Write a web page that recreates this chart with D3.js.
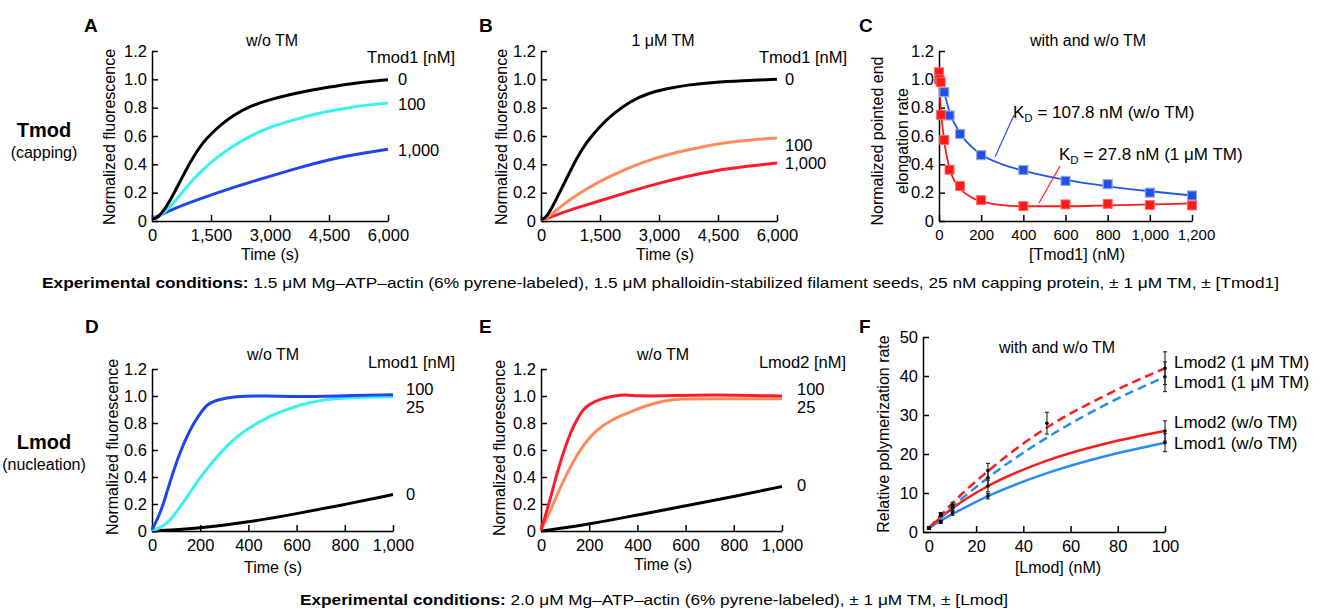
<!DOCTYPE html>
<html>
<head>
<meta charset="utf-8">
<script src="https://cdn.jsdelivr.net/npm/d3@7"></script>
<style>
  body { margin: 0; background: #fff; }
  svg { display: block; }
  text { font-family: "Liberation Sans", Arial, sans-serif; fill: #000; }
  .tick text { font-size: 16.5px; }
  .small .tick text { font-size: 15px; }
</style>
</head>
<body>
<div id="fig"></div>
<script>
// ---- data ----
// A: Tmod1 capping, w/o TM  [time (s), normalized fluorescence]
const aTmod0 = [[0,0.015],[110,0.016],[280,0.063],[534,0.18],[788,0.32],[1042,0.45],[1297,0.555],[1500,0.615],[1800,0.69],[2060,0.745],[2483,0.81],[2992,0.857],[3500,0.892],[4008,0.922],[4517,0.946],[5025,0.969],[5534,0.985],[6000,0.997]];
const aTmod100 = [[0,0.015],[195,0.028],[534,0.12],[873,0.24],[1212,0.343],[1636,0.448],[2060,0.53],[2568,0.612],[3076,0.67],[3585,0.712],[4093,0.752],[4602,0.78],[5110,0.805],[5534,0.82],[6000,0.833]];
const aTmod1000 = [[0,0.015],[534,0.086],[1212,0.156],[2060,0.238],[2907,0.308],[3754,0.378],[4602,0.441],[5449,0.483],[6000,0.507]];
// B: Tmod1 capping, 1 uM TM
const bTmod0 = [[0,0.01],[140,0.02],[400,0.16],[650,0.30],[900,0.44],[1150,0.555],[1500,0.67],[1850,0.76],[2270,0.845],[2700,0.9],[3200,0.935],[3700,0.96],[4400,0.98],[5100,0.99],[6000,1.0]];
const bTmod100 = [[0,0.01],[144,0.016],[569,0.12],[993,0.2],[1418,0.27],[1842,0.327],[2351,0.39],[2861,0.44],[3370,0.48],[3879,0.51],[4388,0.54],[4898,0.56],[5407,0.575],[6000,0.585]];
const bTmod1000 = [[0,0.01],[150,0.015],[570,0.065],[1420,0.135],[2270,0.21],[3030,0.27],[3700,0.315],[4390,0.355],[5200,0.385],[6000,0.41]];
const tmodLabels = ["0", "100", "1,000"];
// C: pointed end elongation rate vs [Tmod1]
const cNoTM = [[0,1.0],[25,0.91],[50,0.745],[100,0.614],[200,0.465],[400,0.36],[600,0.283],[800,0.26],[1000,0.2],[1200,0.18]];
const cTM = [[0,1.05],[2,1.0],[8,0.98],[10,0.75],[25,0.572],[50,0.362],[100,0.247],[200,0.147],[400,0.105],[600,0.117],[800,0.121],[1000,0.112],[1200,0.11]];
const cNoTMFit = [[0,1.0],[10,0.96],[25,0.9],[50,0.77],[100,0.62],[150,0.53],[200,0.47],[300,0.4],[400,0.355],[600,0.29],[800,0.245],[1000,0.21],[1200,0.18]];
const cTMFit = [[0,1.05],[5,0.88],[10,0.77],[25,0.56],[50,0.37],[100,0.23],[150,0.17],[200,0.14],[300,0.112],[400,0.104],[600,0.104],[800,0.11],[1000,0.117],[1200,0.125]];
// D: Lmod1 nucleation, w/o TM
const dLmod100 = [[0,0.01],[35,0.13],[62,0.29],[90,0.45],[118,0.59],[145,0.70],[173,0.80],[200,0.87],[228,0.94],[270,0.97],[340,1.0],[480,1.0],[620,0.995],[750,1.0],[1000,1.01]];
const dLmod25 = [[0,0.01],[20,0.01],[60,0.05],[100,0.135],[145,0.25],[200,0.40],[255,0.52],[310,0.63],[365,0.72],[420,0.78],[475,0.84],[545,0.89],[615,0.935],[700,0.97],[810,0.99],[1000,0.995]];
const dLmod0 = [[0,0],[200,0.02],[400,0.065],[600,0.128],[800,0.196],[1000,0.27]];
// E: Lmod2 nucleation, w/o TM
const eLmod100 = [[0,0.01],[25,0.15],[50,0.32],[75,0.48],[100,0.62],[125,0.74],[150,0.83],[175,0.9],[200,0.94],[250,0.98],[300,1.0],[350,1.01],[400,1.0],[500,1.0],[700,1.01],[1000,1.0]];
const eLmod25 = [[0,0.01],[24,0.087],[93,0.38],[162,0.61],[231,0.755],[300,0.83],[369,0.88],[438,0.93],[508,0.965],[577,0.98],[715,0.98],[1000,0.98]];
const eLmod0 = [[0,0],[203,0.05],[408,0.122],[607,0.188],[805,0.256],[1000,0.33]];
const lmodLabels = ["100", "25", "0"];
// F: relative polymerization rate vs [Lmod]
const fConc = [0, 5, 10, 25, 50, 75, 100];
const fLmod2TMFit = [1, 4.2, 7.4, 15.6, 26.8, 35.1, 42];
const fLmod1TMFit = [1, 3.8, 6.5, 13.9, 24.2, 32.7, 39.8];
const fLmod2Fit = [1, 3.7, 6.1, 11.8, 18.3, 22.7, 25.9];
const fLmod1Fit = [1, 2.9, 4.6, 9.2, 15.1, 19.5, 22.9];
// [nM, rate, error]
const fLmod2TMPts = [[0,1,0.3],[5,4.4,0.4],[10,6.8,0.8],[25,15.7,1.9],[50,27.9,2.8],[100,42,4.2]];
const fLmod1TMPts = [[0,1,0.3],[5,2.6,0.4],[10,6.1,0.8],[25,13.9,2],[100,39.8,3.8]];
const fLmod2Pts = [[0,1,0.3],[5,4.6,0.4],[10,6.3,0.8],[25,11.8,1.5],[100,25.9,2.6]];
const fLmod1Pts = [[0,1,0.3],[5,2.6,0.3],[10,4.9,0.6],[25,9.2,0.7],[100,22.9,2.3]];
const fLabels = ["Lmod2 (1 μM TM)", "Lmod1 (1 μM TM)", "Lmod2 (w/o TM)", "Lmod1 (w/o TM)"];

const w = 1321, h = 609;
const svg = d3.select("#fig").append("svg").attr("width", w).attr("height", h);

const fmtY1 = d => d === 0 ? "0" : d3.format(".1f")(d);

function panel(o) {
  const x = d3.scaleLinear().domain(o.xd).range([o.left, o.right]);
  const y = d3.scaleLinear().domain(o.yd).range([o.bottom, o.top]);
  const gx = svg.append("g")
      .attr("class", o.smallX ? "small" : null)
      .attr("transform", `translate(0,${o.bottom})`)
      .call(d3.axisBottom(x).tickValues(o.xt).tickFormat(o.xf)
        .tickSizeInner(-6).tickSizeOuter(0).tickPadding(8));
  const gy = svg.append("g")
      .attr("transform", `translate(${o.left},0)`)
      .call(d3.axisLeft(y).tickValues(o.yt).tickFormat(o.yf)
        .tickSizeInner(-6).tickSizeOuter(0).tickPadding(5));
  [gx, gy].forEach(g => {
    g.attr("font-size", null).attr("font-family", null);
    g.selectAll("path, line").attr("stroke", "#000").attr("stroke-width", 1.5);
  });
  if (o.hideX0) gx.selectAll(".tick line").filter(d => d === 0).remove();
  return {x, y, gx};
}

function trace(p, data, color, width, curve) {
  svg.append("path")
      .datum(data)
      .attr("fill", "none")
      .attr("stroke", color)
      .attr("stroke-width", width || 3)
      .attr("stroke-linejoin", "round")
      .attr("d", d3.line().x(d => p.x(d[0])).y(d => p.y(d[1])).curve(curve || d3.curveBasis));
}

function txt(x, y, s, opt) {
  opt = opt || {};
  const t = svg.append("text").attr("x", x).attr("y", y).text(s)
      .attr("font-size", opt.size || 16)
      .attr("text-anchor", opt.anchor || "start");
  if (opt.bold) t.attr("font-weight", "bold");
  if (opt.rot) t.attr("transform", `rotate(-90,${x},${y})`);
  return t;
}

// ---- row labels ----
txt(84, 32, "A", {size: 19, bold: true});
txt(479, 32, "B", {size: 19, bold: true});
txt(859, 32, "C", {size: 19, bold: true});
txt(85, 333, "D", {size: 19, bold: true});
txt(479, 333, "E", {size: 19, bold: true});
txt(859, 333, "F", {size: 19, bold: true});
txt(44, 137, "Tmod", {size: 20, bold: true, anchor: "middle"});
txt(44, 158, "(capping)", {anchor: "middle"});
txt(44, 449, "Lmod", {size: 20, bold: true, anchor: "middle"});
txt(44, 470, "(nucleation)", {anchor: "middle"});

// ---- A ----
const tmodX = {xd: [0, 6000], yd: [0, 1.2], xt: [0, 1500, 3000, 4500, 6000], xf: d3.format(","),
  yt: [0, 0.2, 0.4, 0.6, 0.8, 1.0, 1.2], yf: fmtY1, top: 51, bottom: 221};
const pA = panel(Object.assign({left: 152, right: 388}, tmodX));
trace(pA, aTmod1000, "#1f45f0");
trace(pA, aTmod100, "#38f2f2");
trace(pA, aTmod0, "#000");
txt(272, 46, "w/o TM", {anchor: "middle"});
txt(455, 63, "Tmod1 [nM]", {anchor: "end", size: 16.5});
[85, 110, 156].forEach((yy, i) => txt(398, yy, tmodLabels[i], {size: 16.5}));
txt(115, 137, "Normalized fluorescence", {rot: true, anchor: "middle"});
txt(270, 260, "Time (s)", {anchor: "middle"});

// ---- B ----
const pB = panel(Object.assign({left: 541, right: 777}, tmodX));
trace(pB, bTmod1000, "#ff1a2e");
trace(pB, bTmod100, "#ff8a5c");
trace(pB, bTmod0, "#000");
txt(663, 46, "1 μM TM", {anchor: "middle"});
txt(847, 63, "Tmod1 [nM]", {anchor: "end", size: 16.5});
[85, 151, 169].forEach((yy, i) => txt(785, yy, tmodLabels[i], {size: 16.5}));
txt(507, 137, "Normalized fluorescence", {rot: true, anchor: "middle"});
txt(665, 260, "Time (s)", {anchor: "middle"});

// ---- C ----
const pC = panel({left: 939, right: 1192, top: 51, bottom: 221, xd: [0, 1200], yd: [0, 1.2],
  xt: [0, 200, 400, 600, 800, 1000, 1200], xf: d3.format(","), smallX: true,
  yt: [0, 0.2, 0.4, 0.6, 0.8, 1.0, 1.2], yf: fmtY1});
pC.gx.selectAll(".tick text").filter(d => d === 1200).attr("dx", 4);
trace(pC, cNoTMFit, "#1f55f0", 1.8, d3.curveMonotoneX);
trace(pC, cTMFit, "#ff1a1a", 1.8, d3.curveMonotoneX);
svg.append("g").selectAll("rect").data(cNoTM).join("rect")
    .attr("x", d => pC.x(d[0]) - 4.5).attr("y", d => pC.y(d[1]) - 4.5)
    .attr("width", 9).attr("height", 9)
    .attr("fill", "#1f4fe8").attr("stroke", "#93a8d0").attr("stroke-width", 1.2);
svg.append("g").selectAll("rect").data(cTM).join("rect")
    .attr("x", d => pC.x(d[0]) - 4.5).attr("y", d => pC.y(d[1]) - 4.5)
    .attr("width", 9).attr("height", 9)
    .attr("fill", "#ff1a1a").attr("stroke", "#ff6a6a").attr("stroke-width", 1);
svg.append("line").attr("x1", 995).attr("y1", 157).attr("x2", 1014).attr("y2", 115)
    .attr("stroke", "#1f55f0").attr("stroke-width", 1.2);
svg.append("line").attr("x1", 1039).attr("y1", 203).attr("x2", 1060).attr("y2", 166)
    .attr("stroke", "#ff1a1a").attr("stroke-width", 1.2);
[[1013, 118, "107.8 nM (w/o TM)"], [1059, 160, "27.8 nM (1 μM TM)"]].forEach(k => {
  const t = txt(k[0], k[1], "K", {size: 17});
  t.append("tspan").attr("font-size", 11.5).attr("dy", 4).text("D");
  t.append("tspan").attr("dy", -4).text(" = " + k[2]);
});
txt(1088, 46, "with and w/o TM", {anchor: "middle"});
txt(883, 141, "Normalized pointed end", {rot: true, anchor: "middle"});
txt(908, 141, "elongation rate", {rot: true, anchor: "middle"});
txt(1077, 260, "[Tmod1] (nM)", {anchor: "middle"});

// caption 1
const cap1 = txt(42, 288, "", {size: 15}).attr("textLength", 1237).attr("lengthAdjust", "spacingAndGlyphs");
cap1.append("tspan").attr("font-weight", "bold").text("Experimental conditions:");
cap1.append("tspan").text(" 1.5 μM Mg–ATP–actin (6% pyrene-labeled), 1.5 μM phalloidin-stabilized filament seeds, 25 nM capping protein, ± 1 μM TM, ± [Tmod1]");

// ---- D ----
const lmodX = {xd: [0, 1000], yd: [0, 1.2], xt: [0, 200, 400, 600, 800, 1000], xf: d3.format(","),
  yt: [0, 0.2, 0.4, 0.6, 0.8, 1.0, 1.2], yf: fmtY1, top: 369, bottom: 531};
const pD = panel(Object.assign({left: 152, right: 393}, lmodX));
trace(pD, dLmod0, "#000");
trace(pD, dLmod25, "#38f2f2");
trace(pD, dLmod100, "#1f45f0");
txt(273, 360, "w/o TM", {anchor: "middle"});
txt(455, 368, "Lmod1 [nM]", {anchor: "end", size: 16.5});
[395, 413, 500].forEach((yy, i) => txt(406, yy, lmodLabels[i], {size: 16.5}));
txt(118, 447, "Normalized fluorescence", {rot: true, anchor: "middle"});
txt(273, 573, "Time (s)", {anchor: "middle"});

// ---- E ----
const pE = panel(Object.assign({left: 541, right: 782}, lmodX));
trace(pE, eLmod0, "#000");
trace(pE, eLmod25, "#ff8a5c");
trace(pE, eLmod100, "#ff1a2e");
txt(663, 360, "w/o TM", {anchor: "middle"});
txt(846, 368, "Lmod2 [nM]", {anchor: "end", size: 16.5});
[395, 413, 491].forEach((yy, i) => txt(797, yy, lmodLabels[i], {size: 16.5}));
txt(505, 448, "Normalized fluorescence", {rot: true, anchor: "middle"});
txt(663, 570, "Time (s)", {anchor: "middle"});

// ---- F ----
const pF = panel({left: 923, right: 1165, top: 337, bottom: 532, xd: [-2.5, 100], yd: [0, 50],
  xt: [0, 20, 40, 60, 80, 100], xf: d3.format("d"), yt: [0, 10, 20, 30, 40, 50], yf: d3.format("d"),
  hideX0: true});
const fSeries = [
  {fit: fLmod1Fit, pts: fLmod1Pts, color: "#2a8cf0", dash: null},
  {fit: fLmod2Fit, pts: fLmod2Pts, color: "#ff1a1a", dash: null},
  {fit: fLmod1TMFit, pts: fLmod1TMPts, color: "#2a8cf0", dash: "9,5"},
  {fit: fLmod2TMFit, pts: fLmod2TMPts, color: "#ff1a1a", dash: "9,5"}
];
const fLine = d3.line().x((d, i) => pF.x(fConc[i])).y(d => pF.y(d)).curve(d3.curveMonotoneX);
fSeries.forEach(s => {
  svg.append("path").datum(s.fit)
      .attr("fill", "none").attr("stroke", s.color).attr("stroke-width", 2.5)
      .attr("stroke-dasharray", s.dash).attr("d", fLine);
});
fSeries.forEach(s => {
  const g = svg.append("g").attr("stroke", "#222").attr("stroke-width", 1.1);
  s.pts.forEach(p => {
    const px = pF.x(p[0]);
    g.append("line").attr("x1", px).attr("x2", px).attr("y1", pF.y(p[1] - p[2])).attr("y2", pF.y(p[1] + p[2]));
    g.append("line").attr("x1", px - 2).attr("x2", px + 2).attr("y1", pF.y(p[1] - p[2])).attr("y2", pF.y(p[1] - p[2]));
    g.append("line").attr("x1", px - 2).attr("x2", px + 2).attr("y1", pF.y(p[1] + p[2])).attr("y2", pF.y(p[1] + p[2]));
    g.append("circle").attr("cx", px).attr("cy", pF.y(p[1])).attr("r", 1.8).attr("fill", "#000").attr("stroke", "none");
  });
});
[363, 383, 423, 444].forEach((yy, i) => txt(1174, yy + 5, fLabels[i], {size: 17}));
txt(1057, 353, "with and w/o TM", {anchor: "middle"});
txt(889, 434, "Relative polymerization rate", {rot: true, anchor: "middle"});
txt(1058, 573, "[Lmod] (nM)", {anchor: "middle"});

// caption 2
const cap2 = txt(300, 605, "", {size: 15}).attr("textLength", 708).attr("lengthAdjust", "spacingAndGlyphs");
cap2.append("tspan").attr("font-weight", "bold").text("Experimental conditions:");
cap2.append("tspan").text(" 2.0 μM Mg–ATP–actin (6% pyrene-labeled), ± 1 μM TM, ± [Lmod]");
</script>
</body>
</html>
